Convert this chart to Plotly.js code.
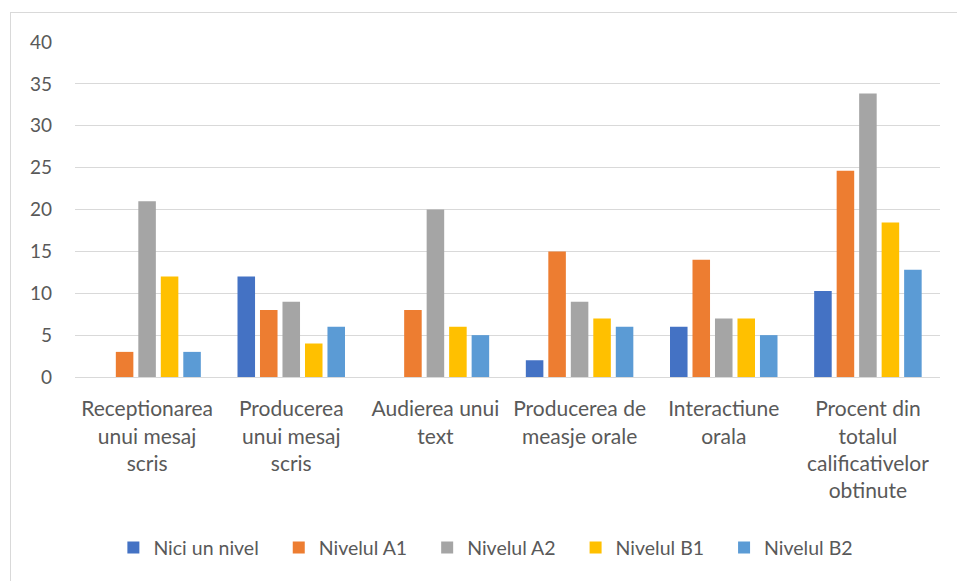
<!DOCTYPE html>
<html>
<head>
<meta charset="utf-8">
<script src="https://cdn.plot.ly/plotly-3.0.1.min.js"></script>
<style>
html,body{margin:0;padding:0;background:#fff;}
#frame{position:absolute;left:10px;top:12px;width:960px;height:580px;border-left:1px solid #d9d9d9;border-top:1px solid #d9d9d9;}
#chart{position:absolute;left:0;top:0;width:957px;height:581px;}
</style>
</head>
<body>
<div id="frame"></div>
<div id="chart"></div>
<script>
const categories = [
  "Receptionarea<br>unui mesaj<br>scris",
  "Producerea<br>unui mesaj<br>scris",
  "Audierea unui<br>text",
  "Producerea de<br>measje orale",
  "Interactiune<br>orala",
  "Procent din<br>totalul<br>calificativelor<br>obtinute"
];
const seriesNames = ["Nici un nivel", "Nivelul A1", "Nivelul A2", "Nivelul B1", "Nivelul B2"];
const niciUnNivel = [0, 12, 0, 2, 6, 10.26];
const nivelulA1   = [3, 8, 8, 15, 14, 24.62];
const nivelulA2   = [21, 9, 20, 9, 7, 33.85];
const nivelulB1   = [12, 4, 6, 7, 7, 18.46];
const nivelulB2   = [3, 6, 5, 6, 5, 12.82];
const colors = ["#4472C4", "#ED7D31", "#A5A5A5", "#FFC000", "#5B9BD5"];
const yTicks = [0, 5, 10, 15, 20, 25, 30, 35, 40];

const values = [niciUnNivel, nivelulA1, nivelulA2, nivelulB1, nivelulB2];
const data = values.map((v, i) => ({
  type: "bar",
  name: seriesNames[i] + (i < 4 ? "\u00a0\u00a0\u00a0" : ""),
  x: categories,
  y: v,
  marker: {color: colors[i]},
  hoverinfo: "y+name"
}));

const fam = "Lato, 'Open Sans', sans-serif";
const layout = {
  width: 957, height: 581,
  margin: {l: 75, r: 17, t: 42, b: 204},
  paper_bgcolor: "rgba(0,0,0,0)",
  plot_bgcolor: "rgba(0,0,0,0)",
  font: {family: fam, size: 19, color: "#595959"},
  barmode: "group",
  bargap: 0.22,
  bargroupgap: 0.22,
  showlegend: true,
  legend: {
    orientation: "h", x: 0.475, xanchor: "center", y: -0.51, yanchor: "middle",
    font: {family: fam, size: 19.5, color: "#595959"},
    itemwidth: 30, traceorder: "normal"
  },
  xaxis: {
    type: "category",
    showline: true, linecolor: "#d9d9d9", linewidth: 1,
    ticks: "", tickfont: {family: fam, size: 21, color: "#595959"},
    ticklabelstandoff: 13, automargin: false
  },
  yaxis: {
    range: [0, 40], tickvals: yTicks, ticktext: yTicks.map(String),
    showgrid: true, gridcolor: "#d9d9d9", gridwidth: 1,
    zeroline: false, showline: false, ticks: "",
    tickfont: {family: fam, size: 19, color: "#595959"},
    ticklabelstandoff: 22, automargin: false
  }
};
Plotly.newPlot("chart", data, layout, {displayModeBar: false, staticPlot: true});
</script>
</body>
</html>
